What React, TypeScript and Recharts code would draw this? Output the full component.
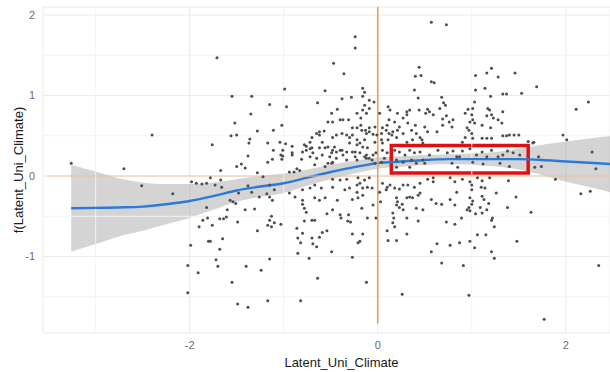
import React from "react";
import {
  ComposedChart,
  Scatter,
  Area,
  Line,
  XAxis,
  YAxis,
  CartesianGrid,
  ReferenceLine,
  ReferenceArea,
} from "recharts";

// smooth fit
const fitX = [-3.26, -3.0, -2.75, -2.5, -2.25, -2.0, -1.75, -1.5, -1.25, -1.0, -0.75, -0.5, -0.25, 0, 0.25, 0.5, 0.75, 1.0, 1.25, 1.5, 1.75, 2.0, 2.25, 2.47];
const fitY = [-0.4, -0.395, -0.39, -0.38, -0.35, -0.31, -0.25, -0.18, -0.13, -0.09, -0.02, 0.05, 0.11, 0.16, 0.18, 0.2, 0.21, 0.21, 0.21, 0.21, 0.2, 0.18, 0.165, 0.15];
const fitLo = [-0.94, -0.845, -0.75, -0.68, -0.6, -0.52, -0.42, -0.32, -0.26, -0.21, -0.12, -0.04, 0.03, 0.09, 0.115, 0.14, 0.15, 0.14, 0.12, 0.08, 0.01, -0.07, -0.135, -0.2];
const fitHi = [0.14, 0.055, -0.03, -0.08, -0.1, -0.1, -0.08, -0.04, 0.0, 0.03, 0.08, 0.14, 0.19, 0.23, 0.245, 0.26, 0.27, 0.28, 0.3, 0.34, 0.39, 0.43, 0.465, 0.5];

const xTicks = [-2, 0, 2];
const yTicks = [-1, 0, 1, 2];
const xMinor = [-3, -1, 1];
const yMinor = [-1.5, -0.5, 0.5, 1.5];

// observations [Latent_Uni_Climate, f(Latent_Uni_Climate)]
const obs: [number, number][] = [
  [-2.4, 0.51], [-3.26, 0.16], [-2.7, 0.09], [-2.51, -0.12], [-2.18, -0.22], [-1.98, -0.07], [-1.93, -0.09], [-1.87, -0.1],
  [-2.02, -1.11], [-1.91, -1.2], [-2.02, -1.45], [-1.99, -0.86], [-1.9, -0.63], [-1.86, -0.55], [-1.82, -0.39], [-1.81, -0.52], [-1.8, -0.81],
  [-1.71, 1.47], [-1.55, 0.99], [-1.34, 0.99], [-0.99, 1.08], [-1.15, 0.89], [-0.97, 0.86], [-1.35, 0.77], [-1.52, 0.66],
  [-1.28, 0.56], [-1.11, 0.57], [-1.02, 0.63], [-1.56, 0.5], [-1.5, 0.51], [-1.36, 0.46], [-1.37, 0.41], [-1.17, 0.41],
  [-1.04, 0.42], [-0.98, 0.4], [-0.91, 0.37], [-1.76, 0.39], [-1.11, 0.32], [-1.01, 0.32], [-0.91, 0.29], [-1.45, 0.15],
  [-1.5, 0.12], [-1.41, 0.1], [-1.38, 0.25], [-1.17, 0.17], [-1.12, 0.21], [-1.02, 0.21], [-1.67, 0.07], [-1.78, -0.02],
  [-1.67, -0.05], [-1.66, -0.14], [-1.28, 0.04], [-1.22, -0.01], [-1.38, -0.12], [-0.94, 0.05], [-0.89, 0.05], [-0.83, 0.07],
  [-0.94, -0.21], [-0.88, -0.26], [-1.34, -0.2], [-1.26, -0.26], [-1.18, -0.22], [-1.15, -0.26], [-1.57, -0.3], [-1.54, -0.32],
  [-1.51, -0.34], [-1.6, -0.42], [-1.41, -0.42], [-1.31, -0.41], [-1.68, -0.53], [-1.64, -0.53], [-1.76, -0.61], [-1.61, -0.51],
  [-1.13, -0.5], [-1.15, -0.55], [-1.17, -0.61], [-1.13, -0.63], [-1.1, -0.58], [-1.03, -0.6], [-1.28, -0.68], [-1.78, -0.81],
  [-1.65, -0.78], [-1.68, -0.91], [-1.72, -1.04], [-1.7, -1.12], [-1.4, -1.12], [-1.24, -1.17], [-1.15, -1.03], [-0.85, -0.77],
  [-0.82, -0.83], [-0.85, -0.96], [-0.8, -0.71], [-0.8, -0.3], [-0.8, -0.35], [-1.55, -1.32], [-1.49, -1.59], [-1.38, -1.63],
  [-1.17, -1.55], [-0.82, -1.55], [-1.48, -0.21], [-1.12, -0.3], [-1.1, -0.17], [-1.15, -0.11], [-0.91, 0.26], [-1.01, 0.25],
  [-0.86, 0.09], [-0.86, -0.65], [-1.03, 0.26], [-1.73, -0.11], [-1.82, -0.09], [-1.49, -0.57],
  [-0.24, 1.73], [-0.24, 1.59], [-0.47, 1.4], [-0.36, 1.27], [-0.56, 1.06], [-0.16, 1.09], [-0.14, 1.04], [-0.16, 0.99],
  [-0.28, 0.98], [-0.38, 0.96], [-0.64, 0.91], [-0.09, 0.94], [-0.04, 0.92], [-0.14, 0.88], [-0.09, 0.84], [-0.16, 0.82],
  [-0.22, 0.78], [-0.43, 0.83], [-0.49, 0.78], [-0.7, 0.48], [-0.65, 0.53], [-0.62, 0.51], [-0.57, 0.56], [-0.53, 0.67],
  [-0.48, 0.67], [-0.4, 0.7], [-0.37, 0.7], [-0.48, 0.48], [-0.33, 0.51], [-0.3, 0.48], [-0.22, 0.6], [-0.18, 0.63],
  [-0.13, 0.57], [-0.09, 0.6], [-0.12, 0.53], [-0.05, 0.52], [-0.22, 0.45], [-0.19, 0.41], [-0.03, 0.42], [-0.76, 0.37],
  [-0.72, 0.34], [-0.8, 0.3], [-0.69, 0.29], [-0.62, 0.35], [-0.53, 0.36], [-0.46, 0.36], [-0.44, 0.3], [-0.49, 0.29],
  [-0.38, 0.32], [-0.33, 0.3], [-0.37, 0.26], [-0.24, 0.3], [-0.19, 0.29], [-0.24, 0.24], [-0.12, 0.26], [-0.05, 0.26],
  [-0.02, 0.29], [-0.09, 0.22], [-0.81, 0.21], [-0.67, 0.14], [-0.53, 0.16], [-0.48, 0.17], [-0.31, 0.7], [-0.18, 0.72],
  [-0.12, 0.78], [-0.27, 0.6], [-0.17, 0.57], [-0.09, 0.55], [-0.03, 0.61], [-0.01, 0.51], [-0.14, 0.45], [-0.27, 0.51],
  [-0.38, 0.53], [-0.44, 0.51], [-0.3, 0.41], [-0.22, 0.39], [-0.16, 0.36], [-0.11, 0.35], [-0.14, 0.24], [-0.27, 0.3],
  [-0.4, 0.32], [-0.48, 0.32], [-0.59, 0.42], [-0.62, 0.55], [-0.72, 0.42], [-0.78, 0.39], [-0.76, 0.32], [-0.7, 0.35],
  [-0.56, 0.35], [-0.72, 0.24], [-0.65, 0.22], [-0.59, 0.26], [-0.51, 0.24], [-0.44, 0.22], [-0.33, 0.2], [-0.22, 0.2],
  [-0.12, 0.22], [-0.06, 0.2], [-0.03, 0.16], [-0.49, 0.16], [-0.56, 0.12],
  [0.44, 1.35], [0.46, 1.25], [0.39, 1.07], [0.43, 0.97], [0.44, 0.82], [0.11, 0.86], [0.13, 0.82], [0.21, 0.78],
  [0.31, 0.8], [0.34, 0.82], [0.27, 0.72], [0.32, 0.66], [0.36, 0.57], [0.4, 0.63], [0.41, 0.53], [0.45, 0.48],
  [0.37, 0.45], [0.31, 0.42], [0.21, 0.57], [0.18, 0.67], [0.12, 0.7], [0.1, 0.63], [0.09, 0.57], [0.04, 0.53],
  [0.12, 0.53], [0.16, 0.55], [0.05, 0.6], [0.02, 0.78], [0.23, 0.61], [0.27, 0.53], [0.15, 0.51], [0.11, 0.45],
  [0.2, 0.48], [0.31, 0.76], [0.04, 0.45], [0.04, 0.17], [0.07, 0.22], [0.1, 0.29], [0.05, 0.41], [0.05, 0.32],
  [0.18, 0.32], [0.23, 0.3], [0.29, 0.26], [0.34, 0.32], [0.39, 0.29], [0.45, 0.3], [0.2, 0.2], [0.27, 0.17],
  [0.36, 0.2], [0.41, 0.16], [0.48, 0.2], [0.2, 0.11], [0.34, 0.11],
  [0.57, 1.91], [0.73, 1.88], [1.21, 1.34], [1.16, 1.28], [1.28, 1.23], [1.04, 1.25], [1.46, 1.28], [1.69, 1.11],
  [0.57, 1.17], [0.6, 1.16], [0.68, 0.98], [1.04, 1.07], [1.14, 1.09], [1.2, 0.99], [1.33, 1.02], [1.37, 1.02],
  [1.53, 1.03], [0.7, 0.91], [0.72, 0.88], [0.66, 0.84], [0.53, 0.83], [0.55, 0.8], [0.51, 0.78], [0.59, 0.76],
  [0.5, 0.61], [0.53, 0.55], [0.63, 0.55], [0.69, 0.71], [0.73, 0.75], [0.76, 0.67], [0.8, 0.7], [0.79, 0.61],
  [0.69, 0.63], [0.93, 0.78], [0.96, 0.83], [1.03, 0.92], [1.01, 0.84], [1.0, 0.76], [0.98, 0.67], [1.01, 0.7],
  [1.03, 0.66], [0.95, 0.6], [0.97, 0.57], [1.0, 0.53], [0.93, 0.48], [0.9, 0.42], [1.11, 0.63], [1.16, 0.75],
  [1.19, 0.82], [1.17, 0.84], [1.21, 0.76], [1.23, 0.72], [1.28, 0.7], [1.32, 0.66], [1.33, 0.8], [1.2, 0.6],
  [1.01, 0.47], [1.11, 0.47], [1.16, 0.47], [1.21, 0.47], [1.33, 0.5], [1.37, 0.5], [1.4, 0.51], [1.45, 0.51],
  [1.5, 0.51], [1.6, 0.43], [1.66, 0.42], [0.47, 0.45], [0.48, 0.41], [2.11, 0.83], [2.24, 0.92], [1.97, 0.51],
  [2.01, 0.45], [2.28, 0.3], [1.71, 0.24], [1.65, 0.41], [0.4, 1.24],
  [0.55, 0.26], [0.64, 0.32], [0.74, 0.29], [0.8, 0.31], [0.84, 0.24], [0.87, 0.24], [0.9, 0.31], [0.98, 0.34],
  [1.05, 0.26], [1.11, 0.3], [1.16, 0.24], [1.21, 0.32], [1.28, 0.24], [1.33, 0.26], [1.38, 0.31], [1.44, 0.29],
  [1.51, 0.26], [0.5, 0.16], [0.79, 0.16], [0.85, 0.11], [1.01, 0.17], [1.12, 0.15], [1.3, 0.16], [1.4, 0.12],
  [1.74, 0.12], [1.67, 0.11], [2.32, 0.09],
  [-0.48, -0.04], [-0.4, -0.05], [-0.33, -0.04], [-0.21, -0.02], [-0.14, -0.05], [-0.09, -0.02], [-0.67, -0.11], [-0.72, -0.15],
  [-0.8, -0.17], [-0.6, -0.15], [-0.48, -0.14], [-0.35, -0.17], [-0.3, -0.15], [-0.22, -0.11], [-0.19, -0.09], [-0.16, -0.15],
  [-0.11, -0.14], [-0.06, -0.15], [-0.22, -0.2], [-0.16, -0.24], [-0.21, -0.27], [-0.67, -0.27], [-0.62, -0.3], [-0.56, -0.27],
  [-0.43, -0.3], [-0.27, -0.29], [-0.78, -0.4], [-0.76, -0.45], [-0.78, -0.56], [-0.67, -0.55], [-0.54, -0.47], [-0.48, -0.42],
  [-0.4, -0.48], [-0.39, -0.52], [-0.31, -0.48], [-0.32, -0.56], [-0.29, -0.57], [-0.17, -0.4], [-0.11, -0.52], [-0.05, -0.36],
  [-0.02, -0.52], [0.02, -0.2], [0.03, -0.32], [0.05, -0.09], [0.09, -0.17], [0.1, -0.14], [0.13, -0.11], [0.18, -0.15],
  [0.23, -0.16], [0.2, -0.27], [0.21, -0.32], [0.26, -0.35], [0.23, -0.39], [0.2, -0.36], [0.27, -0.42], [0.31, -0.27],
  [0.34, -0.26], [0.37, -0.27], [0.43, -0.24], [0.41, -0.4], [0.45, -0.09], [0.39, -0.14], [0.32, -0.11], [0.27, -0.11],
  [0.16, -0.46], [0.17, -0.52], [0.16, -0.58], [0.18, -0.63], [0.31, -0.52], [0.43, -0.56], [0.1, -0.68], [0.11, -0.8],
  [0.2, -0.8], [0.31, -0.72], [-0.27, -0.72], [-0.16, -0.72], [-0.19, -0.81], [-0.21, -0.83], [-0.59, -0.7], [-0.62, -0.76],
  [-0.7, -0.77], [-0.69, -0.84], [-0.65, -0.88], [-0.49, -0.94], [-0.27, -1.01], [-0.73, -1.02], [-0.64, -1.27], [-0.12, -1.32],
  [0.26, -1.47], [-0.54, -0.68], [-0.7, -0.55],
  [0.59, -0.02], [0.53, -0.04], [0.59, -0.07], [0.77, -0.02], [0.82, -0.07], [0.9, -0.04], [0.98, -0.07], [1.0, -0.11],
  [1.06, -0.02], [1.11, -0.06], [1.19, -0.02], [1.1, -0.14], [1.14, -0.15], [1.39, -0.06], [1.0, -0.17], [0.84, -0.2],
  [1.26, -0.21], [1.11, -0.25], [0.98, -0.27], [1.13, -0.29], [0.77, -0.29], [0.57, -0.29], [0.62, -0.34], [0.68, -0.35],
  [0.82, -0.36], [1.01, -0.31], [1.0, -0.35], [0.97, -0.39], [0.95, -0.42], [0.98, -0.43], [1.09, -0.39], [1.18, -0.34],
  [1.16, -0.42], [1.11, -0.46], [1.04, -0.47], [1.38, -0.39], [1.47, -0.26], [1.63, -0.45], [0.45, -0.21], [0.48, -0.42],
  [0.89, -0.52], [1.22, -0.52], [1.21, -0.55], [0.73, -0.57], [0.82, -0.6], [1.24, -0.63], [1.06, -0.73], [1.15, -0.73],
  [0.98, -0.81], [0.87, -0.83], [0.77, -0.86], [0.63, -0.84], [1.03, -0.89], [1.48, -0.81], [0.57, -0.94], [1.21, -0.94],
  [1.24, -1.02], [0.68, -1.08], [0.91, -1.11], [0.97, -1.48], [1.77, -1.78], [2.35, -1.11], [1.89, -0.04], [2.16, -0.22],
  [2.26, -0.19],
];

// highlighted region (red box)
const boxX = [0.144, 1.6];
const boxY = [0.037, 0.379];

const fitData = fitX.map((x, i) => ({ x, fit: fitY[i], band: [fitLo[i], fitHi[i]] }));
const points = obs.map(([x, y]) => ({ x, y }));

const Dot = (props: any) => <circle cx={props.cx} cy={props.cy} r={1.5} fill="#4d4d4d" />;

export default function App() {
  return (
    <div style={{ position: "absolute", left: 0, top: 0, width: 610, height: 372, background: "#fff", fontFamily: '"Liberation Sans", Arial, sans-serif' }}>
      <ComposedChart width={610} height={372} data={fitData} margin={{ top: 7, right: 0, bottom: 0, left: 0 }}>
        <CartesianGrid stroke="#ebebeb" />
        {xMinor.map((v) => (
          <ReferenceLine key={"mx" + v} x={v} stroke="#f2f2f2" />
        ))}
        {yMinor.map((v) => (
          <ReferenceLine key={"my" + v} y={v} stroke="#f2f2f2" />
        ))}
        <XAxis
          type="number"
          dataKey="x"
          domain={[-3.56, 2.47]}
          ticks={xTicks}
          allowDataOverflow
          axisLine={false}
          tickLine={false}
          height={39}
          tick={{ fill: "#6b6b6b", fontSize: 11 }}
          label={{ value: "Latent_Uni_Climate", position: "insideBottom", offset: 5, dx: 15, fill: "#1a1a1a", fontSize: 13 }}
        />
        <YAxis
          type="number"
          domain={[-1.95, 2.1]}
          ticks={yTicks}
          allowDataOverflow
          axisLine={false}
          tickLine={false}
          width={43}
          tick={{ fill: "#6b6b6b", fontSize: 11 }}
          label={{ value: "f(Latent_Uni_Climate)", angle: -90, position: "insideLeft", offset: 18, fill: "#1a1a1a", fontSize: 13, style: { textAnchor: "middle" } }}
        />
        <Scatter data={points} dataKey="y" shape={Dot} isAnimationActive={false} />
        <Area type="monotone" dataKey="band" stroke="none" fill="#999" fillOpacity={0.42} isAnimationActive={false} />
        <Line type="monotone" dataKey="fit" stroke="#2a7ad8" strokeWidth={2.4} dot={false} isAnimationActive={false} />
        <ReferenceLine segment={[{ x: -3.52, y: 0 }, { x: 2.47, y: 0 }]} stroke="#edc7a3" strokeWidth={1} />
        <ReferenceLine segment={[{ x: 0, y: 2.1 }, { x: 0, y: -1.83 }]} stroke="#e4a066" strokeWidth={1.6} />
        <ReferenceArea x1={boxX[0]} x2={boxX[1]} y1={boxY[0]} y2={boxY[1]} fill="none" fillOpacity={0} stroke="#e01010" strokeWidth={3.5} />
      </ComposedChart>
    </div>
  );
}
